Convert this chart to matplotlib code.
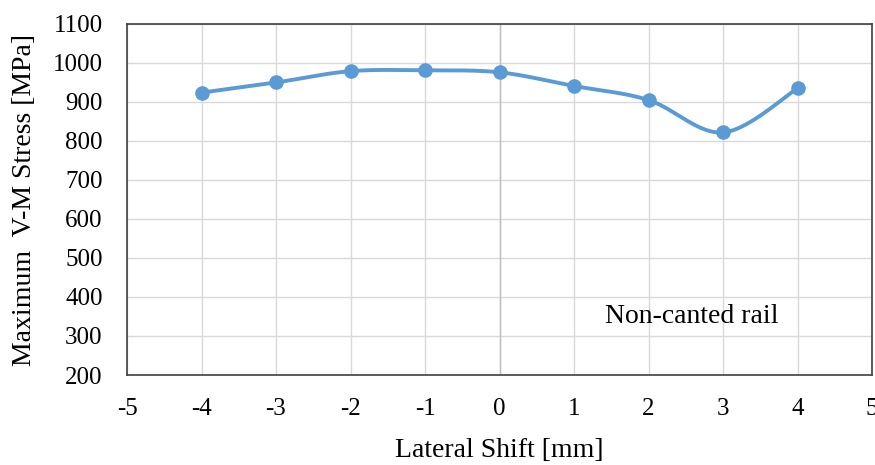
import numpy as np
import matplotlib
matplotlib.use("Agg")
import matplotlib.pyplot as plt

shift = [-4, -3, -2, -1, 0, 1, 2, 3, 4]
stress = [923, 949, 978, 980, 975, 940, 904, 821, 934]
x_ticks = [-5, -4, -3, -2, -1, 0, 1, 2, 3, 4, 5]
y_ticks = [200, 300, 400, 500, 600, 700, 800, 900, 1000, 1100]
annotation = "Non-canted rail"

plt.rcParams['font.family'] = ['Liberation Serif', 'DejaVu Serif']


def excel_smooth(xs, ys, n=40):
    xs = np.asarray(xs, float)
    ys = np.asarray(ys, float)
    px = np.concatenate([[xs[0]], xs, [xs[-1]]])
    py = np.concatenate([[ys[0]], ys, [ys[-1]]])
    outx, outy = [], []
    t = np.linspace(0, 1, n)
    for i in range(1, len(px) - 2):
        p0 = np.array([px[i - 1], py[i - 1]])
        p1 = np.array([px[i], py[i]])
        p2 = np.array([px[i + 1], py[i + 1]])
        p3 = np.array([px[i + 2], py[i + 2]])
        c1 = p1 + (p2 - p0) / 6
        c2 = p2 - (p3 - p1) / 6
        b = ((1 - t) ** 3)[:, None] * p1 + (3 * (1 - t) ** 2 * t)[:, None] * c1 \
            + (3 * (1 - t) * t ** 2)[:, None] * c2 + (t ** 3)[:, None] * p2
        outx.extend(b[:, 0])
        outy.extend(b[:, 1])
    return np.array(outx), np.array(outy)


W, H = 875, 465
fig = plt.figure(figsize=(W / 100, H / 100), dpi=100)
L, R, T, B = 127, 872, 23.5, 375
ax = fig.add_axes([L / W, 1 - B / H, (R - L) / W, (B - T) / H])

color = '#5b9bd5'
sx, sy = excel_smooth(shift, stress)
ax.plot(sx, sy, color=color, lw=2.8, solid_capstyle='round', zorder=3)
ax.plot(shift, stress, 'o', color=color, ms=9.5, zorder=4)

ax.set_xlim(-5, 5)
ax.set_ylim(200, 1100)
ax.set_xticks(x_ticks)
ax.set_yticks(y_ticks)
ax.set_xticklabels([str(v) for v in x_ticks])
ax.set_yticklabels([str(v) for v in y_ticks])
ax.grid(True, color='#d9d9d9', lw=1.0)
ax.axvline(0, color='#bfbfbf', lw=1.0, zorder=1)
ax.set_axisbelow(True)
for s in ax.spines.values():
    s.set_color('#404040')
    s.set_linewidth(1.2)
ax.tick_params(axis='both', length=0, labelsize=18, colors='black')
ax.tick_params(axis='x', pad=16.5)
ax.tick_params(axis='y', pad=17.5)

fig.text((L + R) / 2 / W, 1 - 450.5 / H, 'Lateral Shift [mm]', fontsize=20,
         ha='center', va='center')
fig.text(25 / W, 1 - 200 / H, 'Maximum  V-M Stress [MPa]', fontsize=20,
         ha='center', va='center', rotation=90)
ax.text(2.58, 333, annotation, fontsize=20, ha='center', va='baseline')

fig.savefig('out.png', dpi=100)
